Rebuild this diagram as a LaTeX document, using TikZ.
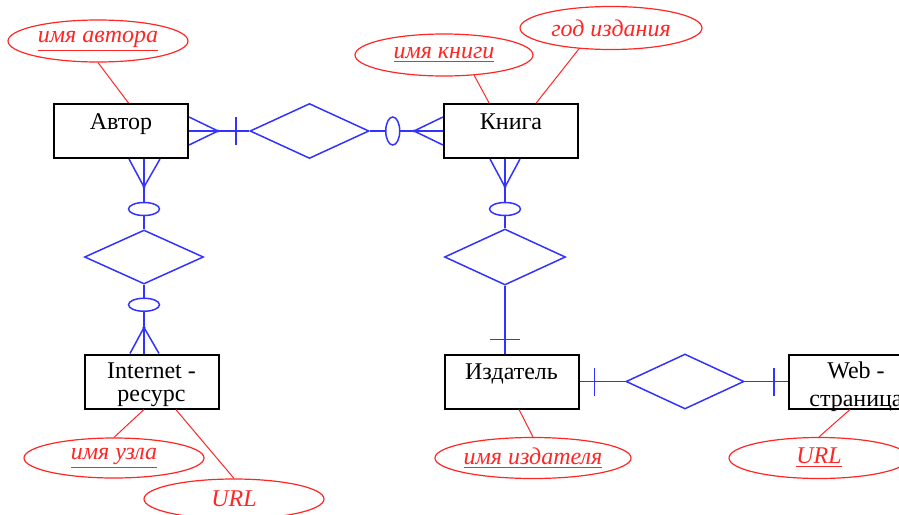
\documentclass[tikz,border=0pt]{standalone}
\usepackage{fontspec}
\setmainfont{Liberation Serif}
\usetikzlibrary{shapes.geometric, calc}
\definecolor{erblue}{rgb}{0.2,0.2,1}
\definecolor{erred}{rgb}{1,0.15,0.15}

\tikzset{
	entity/.style={draw, line width=1pt, minimum width=67pt, inner xsep=0pt, inner ysep=0pt, text height=12.5pt, text depth=14.5pt, align=center, font=\fontsize{12}{10}\selectfont},
	relation/.style={draw=erblue, diamond, line width=0.75pt, inner sep=0pt},
	attr/.style={draw=erred, ellipse, line width=0.6pt, inner sep=0pt, text=erred, font=\fontsize{12}{12}\selectfont\itshape},
	rel/.style={erblue, line width=0.75pt},
	att/.style={erred, line width=0.5pt}
}

\begin{document}
\begin{tikzpicture}[x=0.5pt, y=-0.5pt]
			\useasboundingbox (0,0) rectangle (899,514);
			
			% entities
			\node(author) [entity] at (121,131) {Автор};
			\node(book) [entity] at (511,131) {Книга};
			\node(inet) [entity, text height=23.5pt, text depth=3.5pt] at (151.5,381.5) {Internet -\\[1.5pt]ресурс};
			\node(pub) [entity] at (511.5,381.5) {Издатель};
			\node(web) [entity, text height=26pt, text depth=1pt] at (856,381.5) {Web -\\[4pt]страница};
			
			% relations
			\node(R1) [relation, minimum width=59.5pt, minimum height=27.5pt] at (309.5,131) {};
			\node(R2) [relation, minimum width=59.5pt, minimum height=27pt] at (144,257) {};
			\node(R3) [relation, minimum width=60.5pt, minimum height=28pt] at (505,257) {};
			\node(R4) [relation, minimum width=59pt, minimum height=27.5pt] at (685,381.5) {};
			
			% attributes
			\node(authorName) [attr, minimum width=90pt, minimum height=21pt] at (98,41) {\underline{имя автора}};
			\node(bookName) [attr, minimum width=89pt, minimum height=21pt] at (444,55) {\underline{имя книги}};
			\node(bookYear) [attr, minimum width=91pt, minimum height=21.5pt] at (611,28) {год издания};
			\node(siteName) [attr, minimum width=90pt, minimum height=20pt] at (114,458) {\underline{имя узла}};
			\node(siteURL) [attr, minimum width=90pt, minimum height=20pt] at (234,499) {URL};
			\node(pubName) [attr, minimum width=90.5pt, minimum height=20.5pt] at (533,458) {\underline{имя издателя}};
			\node(webURL) [attr, minimum width=90pt, minimum height=20.5pt] at (819,458) {\underline{URL}};
			
			% attribute links
			\draw[att] (authorName.south) -- (author.75);
			\draw[att] (bookName.-34) -- (book.128);
			\draw[att] (bookYear.-147) -- (book.48);
			\draw[att] (inet.-105) -- (siteName.north);
			\draw[att] (inet.-49.5) -- (siteURL.north);
			\draw[att] (pub.-75) -- (pubName.north);
			\draw[att] (web.-102) -- (webURL.north);
			
			% Автор -- R1 -- Книга
			\draw[rel] (author.east) -- (R1.west);
			\draw[rel] ($(author.east)+(0,-14)$) -- ($(author.east)+(29,0)$) -- ($(author.east)+(0,14)$);
			\fill[erblue] ($(author.east)+(29,0)$) circle (0.8pt);
			\draw[rel] ($(author.east)+(47,-14)$) -- ++(0,28);
			\draw[rel] (R1.east) -- (book.west);
			\draw[rel] ($(book.west)+(0,-14)$) -- ($(book.west)+(-29,0)$) -- ($(book.west)+(0,14)$);
			\fill[erblue] ($(book.west)+(-29,0)$) circle (0.8pt);
			\draw[rel, fill=white] ($(R1.east)+(23,0)$) ellipse (3.5pt and 7pt);
			
			% Автор -- R2 -- Internet
			\coordinate (aBot) at (R2.north |- author.south);
			\draw[rel] (aBot) -- (R2.north);
			\draw[rel] ($(aBot)+(-15,0)$) -- ($(aBot)+(0,28)$) -- ($(aBot)+(16,0)$);
			\fill[erblue] ($(aBot)+(0,28)$) circle (0.8pt);
			\draw[rel, fill=white] ($(aBot)+(0,50)$) ellipse (7.75pt and 3.25pt);
			\coordinate (iTop) at (R2.south |- inet.north);
			\draw[rel] (R2.south) -- (iTop);
			\draw[rel, fill=white] ($(R2.south)+(0,20)$) ellipse (7.75pt and 3.25pt);
			\draw[rel] ($(iTop)+(-14,0)$) -- ($(iTop)+(0,-26)$) -- ($(iTop)+(15,0)$);
			\fill[erblue] ($(iTop)+(0,-26)$) circle (0.8pt);
			
			% Книга -- R3 -- Издатель
			\coordinate (bBot) at (R3.north |- book.south);
			\draw[rel] (bBot) -- (R3.north);
			\draw[rel] ($(bBot)+(-15,0)$) -- ($(bBot)+(0,28)$) -- ($(bBot)+(15,0)$);
			\fill[erblue] ($(bBot)+(0,28)$) circle (0.8pt);
			\draw[rel, fill=white] ($(bBot)+(0,50)$) ellipse (7.75pt and 3.25pt);
			\coordinate (pTop) at (R3.south |- pub.north);
			\draw[rel] (R3.south) -- (pTop);
			\draw[rel] ($(pTop)+(-15,-14)$) -- ++(30,0);
			
			% Издатель -- R4 -- Web
			\draw[rel] (pub.east) -- (R4.west);
			\draw[rel] ($(pub.east)+(15,-14)$) -- ++(0,28);
			\draw[rel] (R4.east) -- (web.west);
			\draw[rel] ($(web.west)+(-14,-14)$) -- ++(0,28);
\end{tikzpicture}
\end{document}
